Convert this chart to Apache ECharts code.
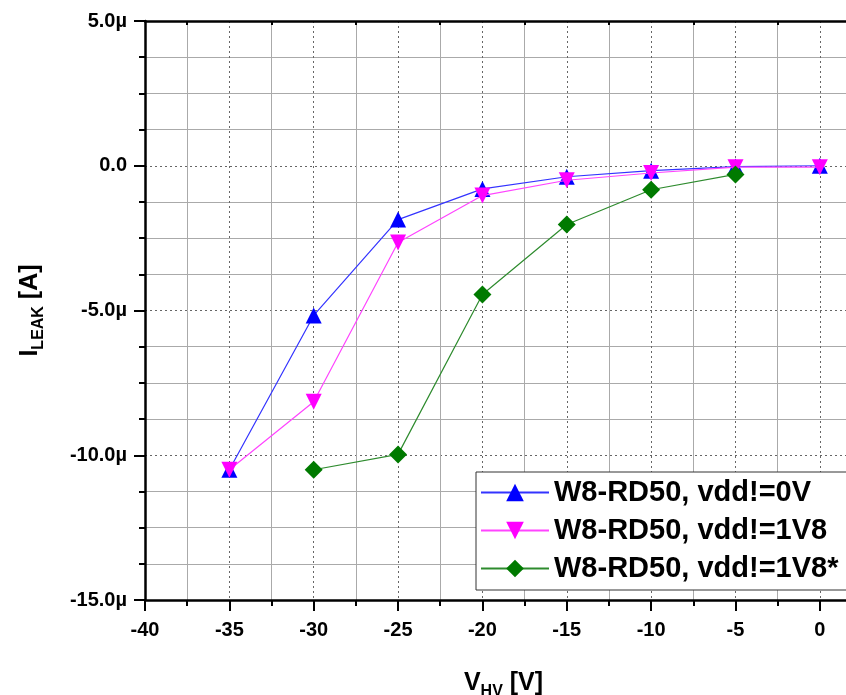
<!DOCTYPE html>
<html>
<head>
<meta charset="utf-8">
<script src="https://cdn.jsdelivr.net/npm/echarts@6/dist/echarts.min.js"></script>
<style>html,body{margin:0;padding:0;background:#fff;}#c{width:846px;height:695px;}</style>
</head>
<body>
<div id="c"></div>
<script>
// Data (current in µA, voltage in V)
const vhv = [-35, -30, -25, -20, -15, -10, -5, 0];
const vhvGreen = [-30, -25, -20, -15, -10, -5];
const vdd0V = [-10.5, -5.17, -1.86, -0.8, -0.38, -0.17, -0.03, 0.0];
const vdd1V8 = [-10.5, -8.15, -2.65, -1.03, -0.5, -0.25, -0.05, -0.05];
const vdd1V8s = [-10.5, -9.97, -4.45, -2.03, -0.83, -0.3];
const seriesNames = ['W8-RD50, vdd!=0V', 'W8-RD50, vdd!=1V8', 'W8-RD50, vdd!=1V8*'];
const xTicks = [-40, -35, -30, -25, -20, -15, -10, -5, 0];
const yTicks = [-15, -10, -5, 0, 5];

const pairs = (xs, ys) => xs.map((x, i) => [x, ys[i]]);
const fontFam = '"Liberation Sans", Arial, sans-serif';

const chart = echarts.init(document.getElementById('c'), null, {renderer: 'canvas'});
const yFmt = v => (Math.abs(v) < 1e-9 ? '0.0' : v.toFixed(1) + 'µ');
const xMax = 2.5;

chart.setOption({
  animation: false,
  backgroundColor: '#fff',
  grid: {left: 145, right: -16, top: 21, bottom: 95, containLabel: false, outerBoundsMode: 'none'},
  xAxis: [{
    type: 'value', position: 'bottom',
    min: xTicks[0], max: xMax, interval: 5,
    axisLine: {onZero: false, lineStyle: {color: '#000', width: 2.5}},
    axisTick: {inside: false, length: 11, lineStyle: {color: '#000', width: 2}},
    minorTick: {show: true, splitNumber: 2, length: 6, lineStyle: {color: '#000', width: 2}},
    axisLabel: {color: '#000', fontWeight: 'bold', fontSize: 20, fontFamily: fontFam, margin: 20,
      formatter: v => xTicks.includes(v) ? String(v) : ''},
    splitLine: {show: true, lineStyle: {color: '#666', type: [2, 3], width: 1}},
    minorSplitLine: {show: true, lineStyle: {color: '#aaa', width: 1}},
    name: '{a|V}{b|HV}{a| [V]}', nameLocation: 'middle', nameGap: 66,
    nameTextStyle: {rich: {
      a: {fontSize: 25, fontWeight: 'bold', fontFamily: fontFam, color: '#000', lineHeight: 34},
      b: {fontSize: 16, fontWeight: 'bold', fontFamily: fontFam, color: '#000', lineHeight: 14, verticalAlign: 'bottom'}
    }}
  }, {
    type: 'value', position: 'top',
    min: xTicks[0], max: xMax, interval: 5,
    axisLine: {onZero: false, lineStyle: {color: '#000', width: 2.5}},
    axisTick: {show: false, inside: true},
    minorTick: {show: true, splitNumber: 2, length: 4, lineStyle: {color: '#000', width: 2}},
    axisLabel: {show: false},
    splitLine: {show: false}
  }],
  yAxis: {
    type: 'value', min: yTicks[0], max: yTicks[yTicks.length - 1], interval: 5,
    axisLine: {onZero: false, lineStyle: {color: '#000', width: 2.5}},
    axisTick: {length: 11, lineStyle: {color: '#000', width: 2}},
    minorTick: {show: true, splitNumber: 4, length: 6, lineStyle: {color: '#000', width: 2}},
    axisLabel: {color: '#000', fontWeight: 'bold', fontSize: 20, fontFamily: fontFam, margin: 18, formatter: yFmt},
    splitLine: {show: true, lineStyle: {color: '#666', type: [2, 3], width: 1}},
    minorSplitLine: {show: true, lineStyle: {color: '#aaa', width: 1}},
    name: '{a|I}{b|LEAK}{a| [A]}', nameLocation: 'middle', nameGap: 98,
    nameTextStyle: {rich: {
      a: {fontSize: 25, fontWeight: 'bold', fontFamily: fontFam, color: '#000', lineHeight: 34},
      b: {fontSize: 16, fontWeight: 'bold', fontFamily: fontFam, color: '#000', lineHeight: 14, verticalAlign: 'bottom'}
    }}
  },
  legend: {
    orient: 'vertical', left: 476, top: 472,
    backgroundColor: '#fff', borderColor: '#333', borderWidth: 1, borderRadius: 0,
    padding: [6, 12, 7, 4], itemGap: 9, itemWidth: 68, itemHeight: 22,
    textStyle: {color: '#000', fontWeight: 'bold', fontSize: 29, fontFamily: fontFam},
    data: seriesNames
  },
  series: [{
    name: seriesNames[0], type: 'line', data: pairs(vhv, vdd0V), z: 2,
    symbol: 'triangle', symbolSize: 16,
    lineStyle: {color: '#3333ff', width: 1.2}, itemStyle: {color: '#0000ff'}
  }, {
    name: seriesNames[1], type: 'line', data: pairs(vhv, vdd1V8), z: 3,
    symbol: 'triangle', symbolRotate: 180, symbolSize: 16,
    lineStyle: {color: '#ff44ff', width: 1.2}, itemStyle: {color: '#ff00ff'}
  }, {
    name: seriesNames[2], type: 'line', data: pairs(vhvGreen, vdd1V8s), z: 4,
    symbol: 'diamond', symbolSize: 18,
    lineStyle: {color: '#2e8b2e', width: 1.2}, itemStyle: {color: '#007a00'}
  }]
});
</script>
</body>
</html>
